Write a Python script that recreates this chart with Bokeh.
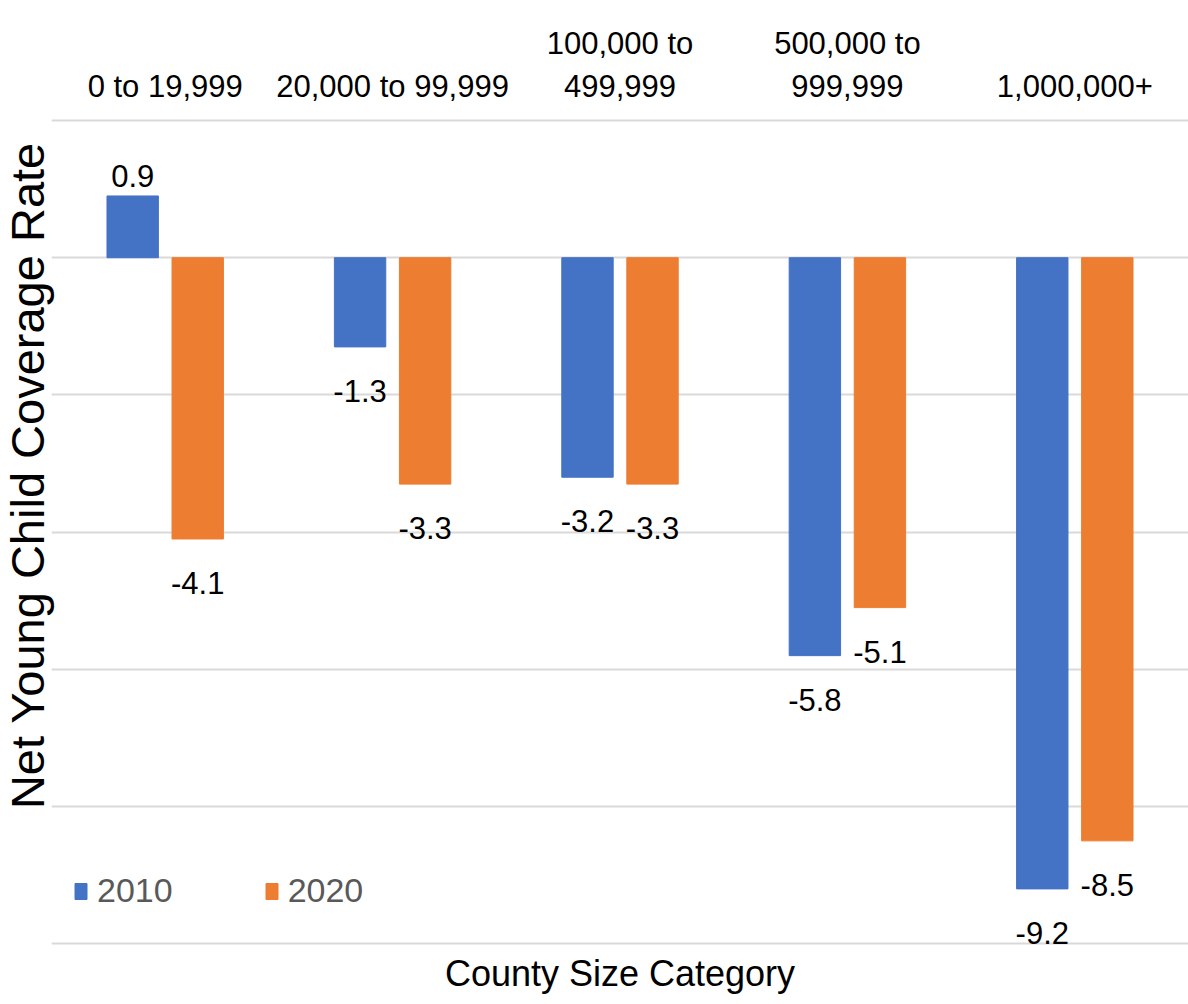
from bokeh.core.properties import value
from bokeh.embed import file_html
from bokeh.models import (ColumnDataSource, FactorRange, FixedTicker, Grid,
                          Legend, LegendItem, Range1d, Title)
from bokeh.plotting import figure
from bokeh.resources import INLINE
from bokeh.transform import dodge

# County size categories and net young child coverage rates
categories = ["0 to 19,999", "20,000 to 99,999", "100,000 to 499,999",
              "500,000 to 999,999", "1,000,000+"]
category_labels = ["0 to 19,999", "20,000 to 99,999", "100,000 to\n499,999",
                   "500,000 to\n999,999", "1,000,000+"]
rate_2010 = [0.9, -1.3, -3.2, -5.8, -9.2]
rate_2020 = [-4.1, -3.3, -3.3, -5.1, -8.5]
series_names = ["2010", "2020"]
grid_values = [2, 0, -2, -4, -6, -8, -10]

BLUE = "#4472C4"
ORANGE = "#ED7D31"
FONT = "Liberation Sans"
GRID_COLOR = "#D9D9D9"

# the frame runs up to the top edge so the category headings sit inside it
p = figure(width=1188, height=1004,
           x_range=FactorRange(factors=categories),
           y_range=Range1d(-10.098, 3.749),
           x_axis_location=None, y_axis_location=None,
           min_border_left=50, min_border_right=0,
           min_border_top=0, min_border_bottom=54,
           outline_line_color=None, background_fill_color="white",
           border_fill_color="white",
           output_backend="svg", toolbar_location=None)

# only horizontal gridlines, every 2 points
p.center = [r for r in p.center if not isinstance(r, Grid)]
p.add_layout(Grid(dimension=1, ticker=FixedTicker(ticks=grid_values),
                  grid_line_color=GRID_COLOR, grid_line_width=2))

# category headings above the top gridline (last line lowest)
top = max(grid_values)
lower = [lbl.split("\n")[-1] for lbl in category_labels]
upper_cat = [c for c, lbl in zip(categories, category_labels) if "\n" in lbl]
upper = [lbl.split("\n")[0] for lbl in category_labels if "\n" in lbl]
head_kw = dict(text_align="center", text_baseline="alphabetic",
               text_font=value(FONT), text_font_size="31px", text_color="black")
p.text(x=categories, y=[top] * len(categories), text=lower, y_offset=-34, **head_kw)
p.text(x=upper_cat, y=[top] * len(upper_cat), text=upper, y_offset=-77, **head_kw)

offset = 0.143
bar_w = 0.226
src = ColumnDataSource(dict(cat=categories, y2010=rate_2010, y2020=rate_2020))

r2010 = p.vbar(x=dodge("cat", -offset, range=p.x_range), top="y2010", bottom=0,
               width=bar_w, source=src, fill_color=BLUE, line_color=BLUE)
r2020 = p.vbar(x=dodge("cat", offset, range=p.x_range), top="y2020", bottom=0,
               width=bar_w, source=src, fill_color=ORANGE, line_color=ORANGE)

# value labels: above positive bars, below negative ones
for vals, dx in ((rate_2010, -offset), (rate_2020, offset)):
    lsrc = ColumnDataSource(dict(
        cat=categories, val=vals,
        txt=[f"{v:.1f}" for v in vals],
        off=[-20 if v >= 0 else 44 for v in vals],
    ))
    p.text(x=dodge("cat", dx, range=p.x_range), y="val", text="txt",
           y_offset="off", source=lsrc, text_align="center",
           text_baseline="alphabetic", text_font=value(FONT),
           text_font_size="31px", text_color="black")

legend = Legend(items=[LegendItem(label=series_names[0], renderers=[r2010]),
                       LegendItem(label=series_names[1], renderers=[r2020])],
                orientation="horizontal", location=(22, 40),
                glyph_width=15, glyph_height=20, label_standoff=9, spacing=91,
                padding=0, margin=0, border_line_color=None,
                background_fill_alpha=0,
                label_text_font=FONT, label_text_font_size="34px",
                label_text_color="#595959")
p.add_layout(legend, "center")

p.add_layout(Title(text="County Size Category", align="center", standoff=0,
                   text_font=FONT, text_font_size="36px",
                   text_font_style="normal", text_color="black"), "below")

p.add_layout(Title(text="Net Young Child Coverage Rate", align="center",
                   standoff=-4,
                   text_font=FONT, text_font_size="47px",
                   text_font_style="normal", text_color="black"), "left")

open("out.html", "w").write(file_html(p, INLINE))
